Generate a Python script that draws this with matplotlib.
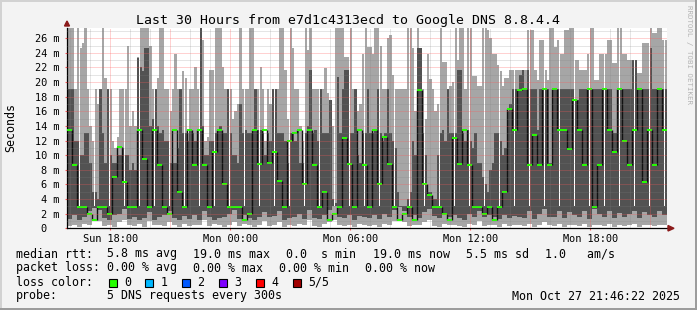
import matplotlib
matplotlib.use("Agg")
import matplotlib.pyplot as plt
import matplotlib.dates as mdates
from matplotlib.patches import Rectangle, Polygon
from datetime import datetime, timedelta

# ---- data, values in ms; Sun 15:50 -> Mon 21:50 ----
start = datetime(2025, 10, 26, 15, 50)
step_min = 15        # median / lower smoke columns
fine_min = 7.5       # upper smoke columns

# lower smoke edges (min ping, 2nd ping) - 15 min columns
ping_lo = [0.3,0.5,0.2,0.6,0.4,1.2,1.0,0.3,0.5,0.2, 0.8,1.1,0.4,0.3,0.6,0.2,1.0,0.4,0.5,0.3,
           0.9,0.4,0.2,0.6,0.3,0.5,0.4,1.1,0.3,0.6, 0.4,0.2,0.5,0.9,0.3,0.6,0.4,0.2,0.5,1.0,
           0.3,0.4,0.8,0.2,0.5,0.3,0.6,0.4,1.1,0.3, 0.2,0.6,0.9,1.2,0.4,0.3,0.5,0.2,0.6,0.4,
           0.3,0.5,0.2,0.6,0.4,1.0,1.2,0.8,0.3,0.5, 0.4,0.9,1.1,0.3,0.2,0.6,0.4,0.5,0.3,0.2,
           0.6,0.4,1.0,0.3,0.5,0.4,0.2,0.6,0.3,0.5, 0.4,0.3,0.6,0.2,0.5,0.9,0.4,0.3,0.6,0.2,
           0.5,0.4,0.3,0.6,0.2,0.5,0.4,0.3,0.6,0.2, 0.5,0.3,0.4,0.6,0.2,0.5,0.4,0.3,0.5,0.4]
ping_2 = [1.3,1.8,1.1,1.6,2.3,2.8,2.5,1.4,1.1,1.8, 2.0,2.6,1.3,1.6,1.1,1.4,2.2,1.2,1.5,1.8,
          2.4,1.4,1.1,1.7,1.3,1.8,1.2,2.4,1.5,1.1, 1.4,1.6,2.0,2.5,1.3,1.8,1.4,1.2,1.6,2.2,
          1.5,1.7,2.3,1.2,1.4,1.6,2.0,1.3,2.5,1.4, 1.3,1.8,2.5,3.0,1.6,1.4,1.8,1.2,1.7,1.5,
          1.4,1.8,1.3,2.0,1.6,2.5,2.9,2.4,1.5,1.8, 1.4,2.2,2.7,1.7,1.4,1.9,1.5,1.8,1.4,1.2,
          2.0,1.6,2.3,1.5,1.8,1.6,1.3,1.8,1.4,1.7, 1.5,1.4,2.3,1.3,2.0,2.6,1.6,1.5,2.4,1.4,
          2.2,1.8,1.5,2.3,1.3,2.7,2.0,1.5,2.3,1.4, 2.1,1.6,2.0,2.4,1.4,2.2,1.8,1.5,2.3,1.8]
median = [13.4,8.6,2.9,2.9,2.0,1.1,2.9,2.9,2.0,7.0, 11.1,6.3,2.9,2.9,13.4,9.5,2.9,13.4,8.6,2.9,
          2.0,13.4,5.0,2.9,13.4,8.6,13.4,8.6,2.9,10.5, 13.4,6.1,2.9,2.9,2.9,1.1,2.0,13.4,8.8,13.4,
          8.9,10.5,6.5,2.9,12.0,13.0,13.4,6.0,13.4,8.6, 2.9,5.0,1.1,2.0,2.9,12.3,8.8,2.9,13.4,8.6,
          2.9,13.4,6.1,12.5,8.8,2.9,1.1,2.0,2.9,1.1, 18.9,6.1,4.6,2.9,2.9,2.0,1.1,12.3,8.8,13.4,
          8.6,2.9,2.9,2.0,2.9,1.1,2.9,5.0,16.3,13.4, 18.9,19.0,8.6,12.8,8.6,19.0,8.6,19.0,13.4,13.4,
          10.8,17.5,13.4,8.6,19.0,2.9,8.6,19.0,13.4,10.5, 19.0,12.0,8.6,13.4,19.0,6.3,13.4,8.6,19.0,13.4]

# upper smoke edges (4th ping, max ping) - 7.5 min columns
ping_4 = [19,19,19,12,12,10,10,13,13,9, 5,5,4,19,13,9,19,10,9,9,
          10,10,11,10,10,8,9,8,23.3,22, 21.5,24.6,24.6,14,15,19,14,13,13.4,12,
          12,9,9,9,11,19,13,13,12,13.4, 13,12,13.4,28,14,10,10,12,12,13,
          13.4,14,13,13,19,13,10,10,9,17, 13,13.4,13,13,13.4,19,13.4,13.4,13,10,
          13,12,19,19,13,13,13,12,9,13, 13,12,13.4,9,9,13,14,21.7,13,13.4,
          12,19,13,13,13,17.5,4,3.5,20.7,13, 19,21.7,21.7,13,13,19,10,9,13,13,
          19,13,13,13.4,19,13,12,13,19,13, 12,11,5,3,3,3,4,5,12,10,
          24.6,24.6,13,10,5,5,4,4,10,13, 13.4,12,19,13,13,13,21.7,21.7,13,12,
          13.4,12,11,13,9,9,7,6,5,8, 9,13,13,12,10,11,16,17,19,19,
          19,21,21.6,19,21.6,19,19,19,13.5,19, 19,19,19,9,19,19,19,19,19,19,
          19,19,19,17.5,17.5,19,19,19,19,19, 19,19,19,19,19,19,19,19,13,13,
          19,19,19,19,19,19,23,23,19,19, 19,19,19,24.6,19,19,19,19,19,19]
ping_hi = [28,28,28,19,28,24.6,25.3,28,19,14, 12,19,17,19,28,20.5,19,19,12,11,
           12.5,19,19,19,25,14,16,14,23.5,28, 28,28,28,25,19,19,20.5,28,28,19,
           19,16,19,23.8,19,19,21.5,20.5,13,19, 19,22,19,28,25.8,12,12.5,21.6,21.6,28,
           28,28,22,19,19,19,15,16,17,28, 19,19,19,28,28,19,19,22,19,12,
           19,17,19,19,19,28,28,21.6,15,28, 24.6,19,19,14,12,28,24.4,28,19,19,
           19,19,19,21.9,18.5,17.5,14,28,28,28, 28,23.5,23.5,28,19,19,16,17,23.8,28,
           24.8,24.8,23.8,28,28,25,19,19,26,26.5, 21,19,19,19,19,19,28,28,24.6,16,
           28,24.6,19,15,23.8,20.4,19,16,17,28, 22.8,22.8,19,19.5,20,28,23,28,28,19,
           28,28,20.8,20.8,19.4,19.4,28,28,27.1,26, 23.9,23.9,22.4,21.5,19.4,20.5,20.5,21.6,21.6,21.6,
           21.6,21.6,21.6,21.6,27.1,27.1,27.1,21.6,20.3,25.8, 25.8,21.6,20.3,28,28,24.8,25.8,23.9,23.9,27.1,
           27.1,28,28,23,23,21.6,21.6,21.6,23.9,28, 28,20.3,20.3,23.9,23.9,23.9,25.8,25.8,22.6,22.6,
           28,28,23.9,23.9,23,23,23,23,21.2,21.2, 25.3,25.3,25.3,28,26.7,26.7,28,28,25.8,25.8]

ytick_vals = [0, 2, 4, 6, 8, 10, 12, 14, 16, 18, 20, 22, 24, 26]
ytick_text = ["0  ", "2 m", "4 m", "6 m", "8 m", "10 m", "12 m", "14 m", "16 m",
              "18 m", "20 m", "22 m", "24 m", "26 m"]

loss_labels = ["0", "1", "2", "3", "4", "5/5"]
loss_colors = ["#26ff00", "#00b8ff", "#0059ff", "#7e00ff", "#ff0000", "#a10000"]

assert len(ping_4) == len(ping_hi) == 240

W, H = 697, 310
MONO = "DejaVu Sans Mono"
plt.rcParams['font.family'] = MONO

fig = plt.figure(figsize=(W / 100, H / 100), dpi=100)
fig.patch.set_facecolor("#f3f3f3")

def fx(px):
    return px / W

def fy(py):
    return 1 - py / H

ax = fig.add_axes([fx(67), fy(228.3), 600 / W, (228.3 - 27.7) / H])
ax.set_facecolor("white")

t = [start + timedelta(minutes=step_min * i) for i in range(len(median) + 1)]
xs = mdates.date2num(t)
wd = step_min / 1440.0
tf = [start + timedelta(minutes=fine_min * i) for i in range(len(ping_hi))]
xf = mdates.date2num(tf)
wf = fine_min / 1440.0

# light smoke: upper part (fine) + lower part (coarse)
ax.bar(xf, [h - 3 for h in ping_hi], bottom=3, width=wf, align="edge",
       color="#a6a6a6", linewidth=0, antialiased=False, zorder=1)
ax.bar(xs[:-1], [3 - l for l in ping_lo], bottom=ping_lo, width=wd, align="edge",
       color="#a6a6a6", linewidth=0, antialiased=False, zorder=1)
# dark smoke
ax.bar(xf, [p - 3 for p in ping_4], bottom=3, width=wf, align="edge",
       color="#525252", linewidth=0, antialiased=False, zorder=2)
ax.bar(xs[:-1], [3 - b for b in ping_2], bottom=ping_2, width=wd, align="edge",
       color="#525252", linewidth=0, antialiased=False, zorder=2)

# median: black risers + green steps
for i in range(1, len(median)):
    ax.plot([xs[i], xs[i]], [median[i - 1], median[i]], color="#111111", lw=1.0,
            solid_capstyle="butt", zorder=3)
for i in range(len(median)):
    ax.plot([xs[i], xs[i + 1]], [median[i], median[i]], color="#26ff00", lw=1.4,
            solid_capstyle="butt", zorder=4)

ax.set_xlim(xs[0], xs[-1])
ax.set_ylim(0, 27.44)

# grid (on top, dotted)
dot = (0, (1, 1))
red_grid = (1, 0.35, 0.35, 0.55)
gray_grid = (0.5, 0.5, 0.5, 0.4)
for v in range(1, 28):
    ax.axhline(v, color=red_grid if v % 2 == 0 else gray_grid, lw=0.72, ls=dot, zorder=5)
h = datetime(2025, 10, 26, 16, 0)
while h < t[-1]:
    ax.axvline(mdates.date2num(h), color=red_grid if h.hour % 3 == 0 else gray_grid,
               lw=0.72, ls=dot, zorder=5)
    h += timedelta(hours=1)

for s in ["top", "right"]:
    ax.spines[s].set_visible(False)
for s in ["left", "bottom"]:
    ax.spines[s].set_color("black")
    ax.spines[s].set_linewidth(0.9)

ax.set_yticks(ytick_vals)
ax.set_yticklabels(ytick_text, fontsize=7.35, family=MONO)
ax.xaxis.set_major_locator(mdates.HourLocator(byhour=[0, 6, 12, 18]))
ax.xaxis.set_major_formatter(mdates.DateFormatter("%a %H:%M"))
ax.tick_params(axis="x", length=1.5, color="#ff6060", pad=2.6, labelsize=7.35)
ax.tick_params(axis="y", length=1.5, color="#ff6060", pad=4.0, labelsize=7.35)

# axis arrows
fig.patches.append(Polygon([[fx(64.5), fy(26)], [fx(69.5), fy(26)], [fx(67), fy(21)]],
                           closed=True, transform=fig.transFigure, color="#8b1a1a"))
fig.patches.append(Polygon([[fx(668), fy(225.5)], [fx(668), fy(231)], [fx(674), fy(228.3)]],
                           closed=True, transform=fig.transFigure, color="#8b1a1a"))

# titles
fig.text(fx(348.5), fy(24), "Last 30 Hours from e7d1c4313ecd to Google DNS 8.8.4.4",
         ha="center", va="baseline", fontsize=9.5, family=MONO)
fig.text(fx(11), fy(128), "Seconds", rotation=90, ha="center", va="center",
         fontsize=8.4, family=MONO)
fig.text(fx(688.5), fy(5), "RRDTOOL / TOBI OETIKER", rotation=270, ha="center", va="top",
         fontsize=5.3, color="#b4b4b4", family=MONO)

# legend
lg = 8.4
row1 = [(16, "median rtt:"), (107.3, "5.8 ms avg"), (193, "19.0 ms max"), (286, "0.0  s min"),
        (372.7, "19.0 ms now"), (465.7, "5.5 ms sd"), (545, "1.0   am/s")]
row2 = [(16, "packet loss:"), (107.3, "0.00 % avg"), (193.3, "0.00 % max"),
        (279.3, "0.00 % min"), (365, "0.00 % now")]
for x, s in row1:
    fig.text(fx(x), fy(257.5), s, ha="left", va="baseline", fontsize=lg, family=MONO)
for x, s in row2:
    fig.text(fx(x), fy(271.5), s, ha="left", va="baseline", fontsize=lg, family=MONO)
fig.text(fx(16), fy(285.5), "loss color:", ha="left", va="baseline", fontsize=lg, family=MONO)
for k, (lab, col) in enumerate(zip(loss_labels, loss_colors)):
    bx = 108.5 + k * 36.8
    fig.patches.append(Rectangle((fx(bx), fy(286.5)), 8 / W, 8 / H, transform=fig.transFigure,
                                 facecolor=col, edgecolor="black", lw=0.8))
    fig.text(fx(bx + 15.5), fy(285.5), lab, ha="left", va="baseline", fontsize=lg, family=MONO)
fig.text(fx(16), fy(299.5), "probe:", ha="left", va="baseline", fontsize=lg, family=MONO)
fig.text(fx(107.3), fy(299.5), "5 DNS requests every 300s", ha="left", va="baseline",
         fontsize=lg, family=MONO)
fig.text(fx(680), fy(299.5), "Mon Oct 27 21:46:22 2025", ha="right", va="baseline",
         fontsize=lg, family=MONO)

# image frame
fig.patches.append(Rectangle((0, 0), 2 / W, 1, transform=fig.transFigure, color="#d2d2d2", lw=0))
fig.patches.append(Rectangle((0, 1 - 2 / H), 1, 2 / H, transform=fig.transFigure, color="#d2d2d2", lw=0))
fig.patches.append(Rectangle((1 - 2 / W, 0), 2 / W, 1, transform=fig.transFigure, color="#9c9c9c", lw=0))
fig.patches.append(Rectangle((0, 0), 1, 2 / H, transform=fig.transFigure, color="#9c9c9c", lw=0))

fig.savefig("out.png", dpi=100, facecolor=fig.get_facecolor())
